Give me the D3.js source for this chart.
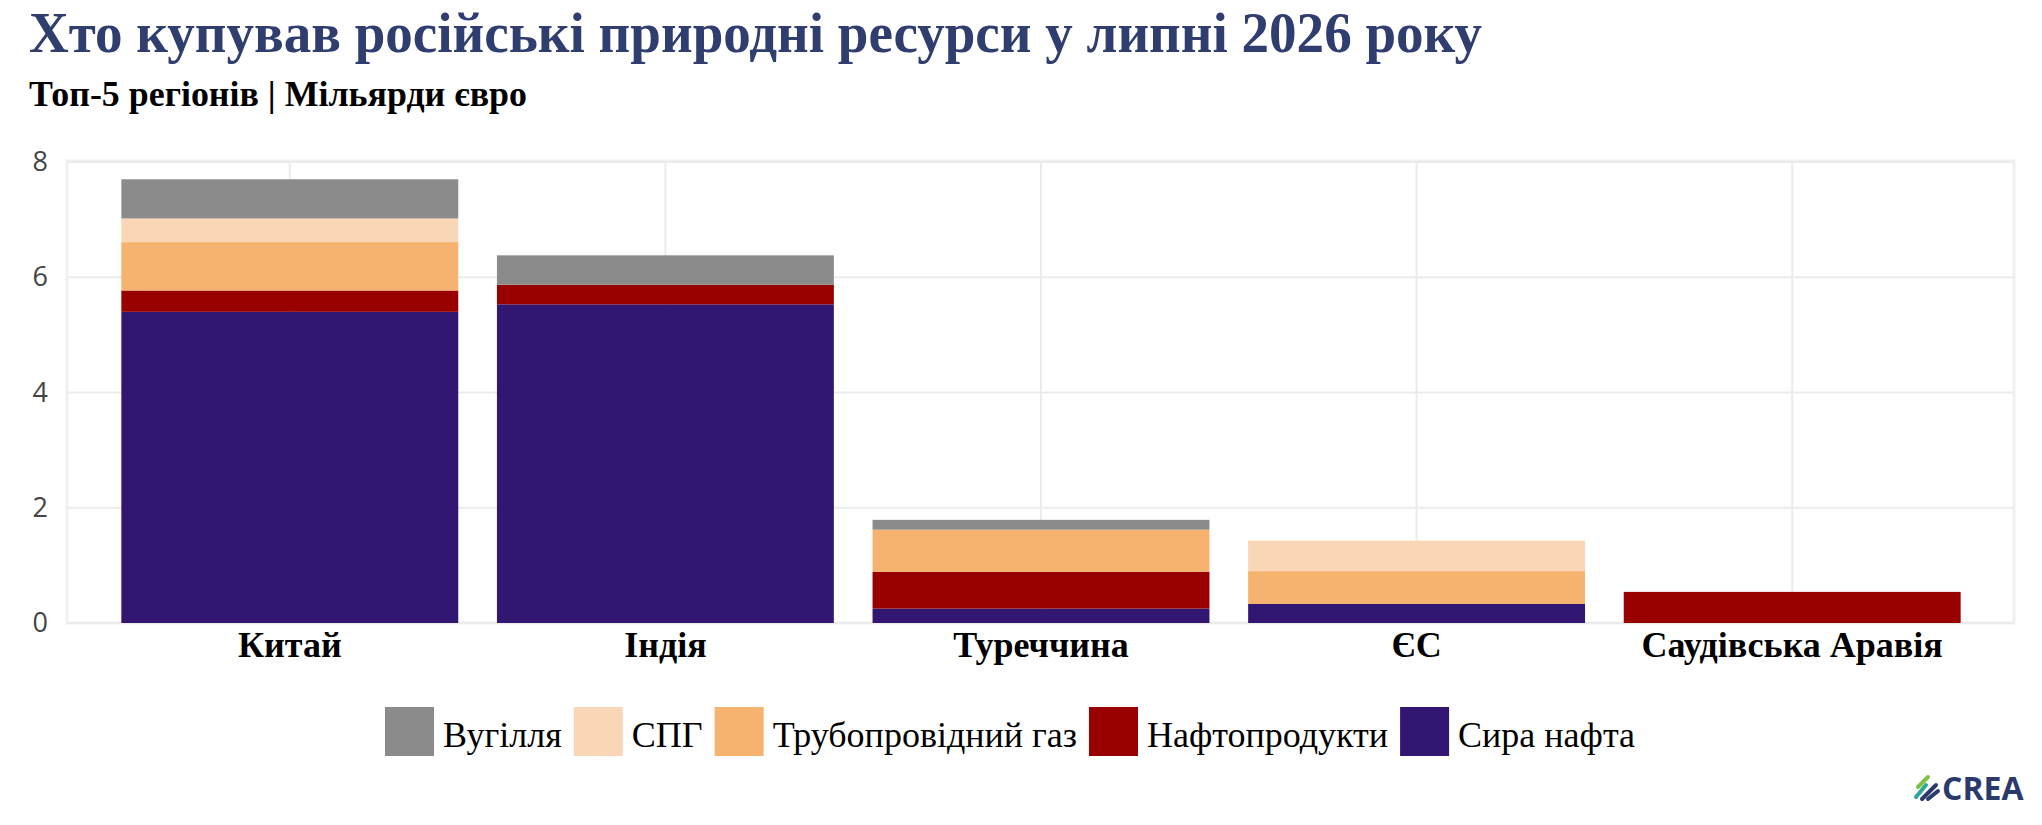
<!DOCTYPE html>
<html>
<head>
<meta charset="utf-8">
<script src="https://cdn.jsdelivr.net/npm/d3@7"></script>
<style>
  body { margin: 0; background: #fff; }
  svg { display: block; }
</style>
</head>
<body>
<svg id="chart" width="2042" height="825"></svg>
<script>
// regions and values (billion euro)
var regions = ["Китай", "Індія", "Туреччина", "ЄС", "Саудівська Аравія"];
var crudeOil = [5.40, 5.53, 0.25, 0.33, 0];
var oilProducts = [0.37, 0.34, 0.64, 0, 0.54];
var pipelineGas = [0.84, 0, 0.73, 0.57, 0];
var lng = [0.41, 0, 0, 0.53, 0];
var coal = [0.68, 0.51, 0.17, 0, 0];
var yTicks = [0, 2, 4, 6, 8];

// stack order bottom -> top
var seriesKeys = ["crude", "products", "pipeline", "lng", "coal"];
var seriesNames = {
    coal: "Вугілля",
    lng: "СПГ",
    pipeline: "Трубопровідний газ",
    products: "Нафтопродукти",
    crude: "Сира нафта"
};
var legendOrder = ["coal", "lng", "pipeline", "products", "crude"];
var colors = {
    coal: "#8b8b8b",
    lng: "#f9d6b5",
    pipeline: "#f5b36f",
    products: "#990000",
    crude: "#311772"
};

var rows = regions.map(function(r, i) {
    return {
        region: r,
        crude: crudeOil[i],
        products: oilProducts[i],
        pipeline: pipelineGas[i],
        lng: lng[i],
        coal: coal[i]
    };
});

var svg = d3.select("#chart");
var plot = { left: 67, top: 161, right: 2014, bottom: 623 };

var x = d3.scaleBand()
    .domain(regions)
    .range([102, 1980])
    .paddingInner(0.103)
    .paddingOuter(0.0515);

var y = d3.scaleLinear()
    .domain([0, 8])
    .range([623, 162]);

// title + subtitle
svg.append("text")
    .attr("x", 29).attr("y", 52)
    .attr("font-family", "Liberation Serif, serif")
    .attr("font-weight", "bold")
    .attr("font-size", 58)
    .attr("fill", "#2f3e6f")
    .attr("textLength", 1453)
    .attr("lengthAdjust", "spacingAndGlyphs")
    .text("Хто купував російські природні ресурси у липні 2026 року");

svg.append("text")
    .attr("x", 29).attr("y", 106)
    .attr("font-family", "Liberation Serif, serif")
    .attr("font-weight", "bold")
    .attr("font-size", 35)
    .attr("fill", "#000")
    .attr("textLength", 498)
    .attr("lengthAdjust", "spacingAndGlyphs")
    .text("Топ-5 регіонів | Мільярди євро");

// plot frame
svg.append("rect")
    .attr("x", plot.left).attr("y", plot.top)
    .attr("width", plot.right - plot.left)
    .attr("height", plot.bottom - plot.top)
    .attr("fill", "none")
    .attr("stroke", "#f0f0f0")
    .attr("stroke-width", 3);

// grid
svg.append("g")
    .selectAll("line.h")
    .data(yTicks)
    .enter().append("line")
    .attr("x1", plot.left).attr("x2", plot.right)
    .attr("y1", function(d) { return y(d); })
    .attr("y2", function(d) { return y(d); })
    .attr("stroke", "#ebebeb")
    .attr("stroke-width", 2);

svg.append("g")
    .selectAll("line.v")
    .data(regions)
    .enter().append("line")
    .attr("x1", function(d) { return x(d) + x.bandwidth() / 2; })
    .attr("x2", function(d) { return x(d) + x.bandwidth() / 2; })
    .attr("y1", plot.top).attr("y2", plot.bottom)
    .attr("stroke", "#ebebeb")
    .attr("stroke-width", 2);

// y axis labels
var yAxis = d3.axisLeft(y).tickValues(yTicks).tickSize(0).tickPadding(0);
var gy = svg.append("g")
    .attr("transform", "translate(48,0)")
    .call(yAxis);
gy.select(".domain").remove();
gy.selectAll("text")
    .attr("font-family", "Open Sans, sans-serif")
    .attr("font-size", 27)
    .attr("fill", "#444");

// stacked bars
var stack = d3.stack().keys(seriesKeys);
var layers = stack(rows);

svg.append("g")
    .selectAll("g")
    .data(layers)
    .enter().append("g")
    .attr("fill", function(d) { return colors[d.key]; })
    .selectAll("rect")
    .data(function(d) { return d; })
    .enter().append("rect")
    .attr("x", function(d) { return x(d.data.region); })
    .attr("y", function(d) { return y(d[1]); })
    .attr("width", x.bandwidth())
    .attr("height", function(d) { return y(d[0]) - y(d[1]); });

// x axis labels
var xAxis = d3.axisBottom(x).tickSize(0).tickPadding(0);
var gx = svg.append("g")
    .attr("transform", "translate(0,657)")
    .call(xAxis);
gx.select(".domain").remove();
gx.selectAll("text")
    .attr("dy", 0)
    .attr("font-family", "Liberation Serif, serif")
    .attr("font-weight", "bold")
    .attr("font-size", 36)
    .attr("fill", "#000");

// legend
var legend = svg.append("g").attr("transform", "translate(385,707)");
var lx = 0;
legendOrder.forEach(function(k) {
    var item = legend.append("g").attr("transform", "translate(" + lx + ",0)");
    item.append("rect")
        .attr("width", 49).attr("height", 49)
        .attr("fill", colors[k]);
    var t = item.append("text")
        .attr("x", 58).attr("y", 40)
        .attr("font-family", "Liberation Serif, serif")
        .attr("font-size", 36)
        .attr("fill", "#000")
        .text(seriesNames[k]);
    lx += 58 + t.node().getComputedTextLength() + 12;
});

// CREA logo
var logo = svg.append("g").attr("transform", "translate(1914,775)");
var strokes = [
    { x1: 2, y1: 22, x2: 12, y2: 10, c: "#2aa89a" },
    { x1: 4, y1: 12, x2: 14, y2: 2, c: "#7cc242" },
    { x1: 8, y1: 24, x2: 22, y2: 10, c: "#2b3a6b" },
    { x1: 14, y1: 24, x2: 24, y2: 16, c: "#2b3a6b" }
];
logo.selectAll("line")
    .data(strokes)
    .enter().append("line")
    .attr("x1", function(d) { return d.x1; })
    .attr("y1", function(d) { return d.y1; })
    .attr("x2", function(d) { return d.x2; })
    .attr("y2", function(d) { return d.y2; })
    .attr("stroke", function(d) { return d.c; })
    .attr("stroke-width", 4)
    .attr("stroke-linecap", "round");
logo.append("text")
    .attr("x", 28).attr("y", 25)
    .attr("font-family", "Open Sans, sans-serif")
    .attr("font-weight", "bold")
    .attr("font-size", 32)
    .attr("fill", "#2b3a6b")
    .text("CREA");
</script>
</body>
</html>
